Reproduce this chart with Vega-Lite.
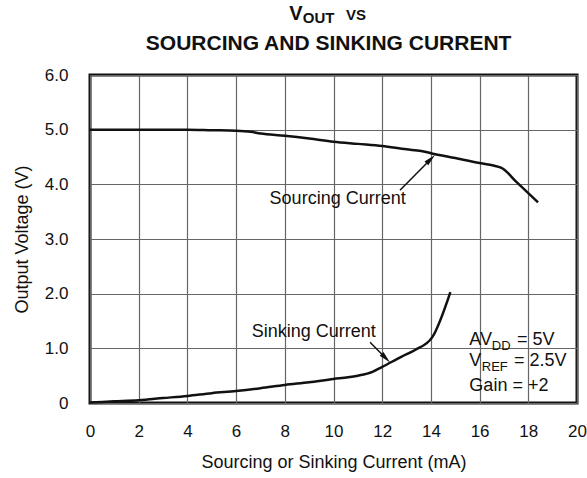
{
  "$schema": "https://vega.github.io/schema/vega-lite/v6.json",
  "width": 487,
  "height": 328,
  "autosize": "none",
  "padding": {"left": 90, "top": 75, "right": 10, "bottom": 75},
  "background": "white",
  "config": {
    "view": {"stroke": "#111", "strokeWidth": 3},
    "axis": {"labelFont": "Liberation Sans", "titleFont": "Liberation Sans", "labelFontSize": 17, "titleFontSize": 18, "titleFontWeight": "normal", "labelColor": "#111", "titleColor": "#111", "gridColor": "#666", "gridWidth": 1.2, "gridOpacity": 1, "domain": false, "ticks": false, "tickSize": 0}
  },
  "datasets": {
    "curves": [
      {"series": "Sourcing", "x": 0, "y": 5.0},
      {"series": "Sourcing", "x": 2, "y": 5.0},
      {"series": "Sourcing", "x": 4, "y": 5.0},
      {"series": "Sourcing", "x": 5, "y": 4.99},
      {"series": "Sourcing", "x": 6, "y": 4.98},
      {"series": "Sourcing", "x": 6.6, "y": 4.96},
      {"series": "Sourcing", "x": 7, "y": 4.93},
      {"series": "Sourcing", "x": 8, "y": 4.89},
      {"series": "Sourcing", "x": 9, "y": 4.84},
      {"series": "Sourcing", "x": 10, "y": 4.78},
      {"series": "Sourcing", "x": 11, "y": 4.74},
      {"series": "Sourcing", "x": 12, "y": 4.7},
      {"series": "Sourcing", "x": 13, "y": 4.64},
      {"series": "Sourcing", "x": 13.6, "y": 4.61},
      {"series": "Sourcing", "x": 14, "y": 4.57},
      {"series": "Sourcing", "x": 15, "y": 4.48},
      {"series": "Sourcing", "x": 16, "y": 4.39},
      {"series": "Sourcing", "x": 16.9, "y": 4.3},
      {"series": "Sourcing", "x": 17.5, "y": 4.05},
      {"series": "Sourcing", "x": 18.4, "y": 3.67},
      {"series": "Sinking", "x": 0, "y": 0.01},
      {"series": "Sinking", "x": 1, "y": 0.03},
      {"series": "Sinking", "x": 2, "y": 0.05},
      {"series": "Sinking", "x": 3, "y": 0.09},
      {"series": "Sinking", "x": 4, "y": 0.13},
      {"series": "Sinking", "x": 5, "y": 0.18},
      {"series": "Sinking", "x": 6, "y": 0.22},
      {"series": "Sinking", "x": 7, "y": 0.27},
      {"series": "Sinking", "x": 8, "y": 0.33},
      {"series": "Sinking", "x": 9, "y": 0.38},
      {"series": "Sinking", "x": 10, "y": 0.44},
      {"series": "Sinking", "x": 10.6, "y": 0.47},
      {"series": "Sinking", "x": 11, "y": 0.5},
      {"series": "Sinking", "x": 11.6, "y": 0.57},
      {"series": "Sinking", "x": 12, "y": 0.66},
      {"series": "Sinking", "x": 12.8, "y": 0.85},
      {"series": "Sinking", "x": 13.35, "y": 0.97},
      {"series": "Sinking", "x": 14.05, "y": 1.2},
      {"series": "Sinking", "x": 14.8, "y": 2.03}
    ],
    "arrows": [
      {"series": "Sourcing", "x": 13.99, "y": 4.46, "x2": 12.73, "y2": 3.89},
      {"series": "Sinking", "x": 12.15, "y": 0.82, "x2": 11.5, "y2": 1.11}
    ],
    "labels": [
      {"x": 10.17, "y": 3.74, "text": "Sourcing Current"},
      {"x": 9.19, "y": 1.29, "text": "Sinking Current"}
    ],
    "notes": [
      {"x": 15.58, "y": 1.053, "text": "AV", "kind": "main"},
      {"x": 16.5, "y": 0.974, "text": "DD", "kind": "sub"},
      {"x": 17.54, "y": 1.053, "text": "= 5V", "kind": "main"},
      {"x": 15.58, "y": 0.674, "text": "V", "kind": "main"},
      {"x": 16.09, "y": 0.577, "text": "REF", "kind": "sub"},
      {"x": 17.41, "y": 0.674, "text": "= 2.5V", "kind": "main"},
      {"x": 15.58, "y": 0.216, "text": "Gain = +2", "kind": "main"}
    ],
    "heading": [
      {"x": 8.18, "y": 7.0, "text": "V", "kind": "big"},
      {"x": 8.74, "y": 6.96, "text": "OUT", "kind": "sub"},
      {"x": 10.51, "y": 7.0, "text": "VS", "kind": "sub"},
      {"x": 9.8, "y": 6.456, "text": "SOURCING AND SINKING CURRENT", "kind": "line2"}
    ]
  },
  "encoding": {
    "x": {"field": "x", "type": "quantitative", "scale": {"domain": [0, 20], "nice": false, "zero": false},
      "axis": {"title": "Sourcing or Sinking Current (mA)", "values": [0, 2, 4, 6, 8, 10, 12, 14, 16, 18, 20], "labelPadding": 20, "titlePadding": 14, "labelFlush": false}},
    "y": {"field": "y", "type": "quantitative", "scale": {"domain": [0, 6], "nice": false},
      "axis": {"title": "Output Voltage (V)", "values": [0, 1, 2, 3, 4, 5, 6], "labelExpr": "datum.value == 0 ? '0' : format(datum.value, '.1f')", "labelPadding": 22, "titlePadding": 13}}
  },
  "layer": [
    {"data": {"name": "curves"}, "mark": {"type": "line", "color": "#111", "strokeWidth": 2.5, "interpolate": "monotone"},
      "encoding": {"detail": {"field": "series", "type": "nominal"}}},
    {"data": {"name": "arrows"}, "mark": {"type": "rule", "color": "#111", "strokeWidth": 1.5},
      "encoding": {"x2": {"field": "x2"}, "y2": {"field": "y2"}}},
    {"data": {"name": "arrows"}, "transform": [{"filter": "datum.series == 'Sourcing'"}],
      "mark": {"type": "point", "shape": "M0,-1L0.45,1L-0.45,1Z", "filled": true, "color": "#111", "opacity": 1, "size": 144, "angle": 45}},
    {"data": {"name": "arrows"}, "transform": [{"filter": "datum.series == 'Sinking'"}],
      "mark": {"type": "point", "shape": "M0,-1L0.45,1L-0.45,1Z", "filled": true, "color": "#111", "opacity": 1, "size": 144, "angle": 135}},
    {"data": {"name": "labels"}, "mark": {"type": "text", "font": "Liberation Sans", "fontSize": 18, "color": "#111", "align": "center", "baseline": "middle"},
      "encoding": {"text": {"field": "text"}}},
    {"data": {"name": "notes"}, "transform": [{"filter": "datum.kind == 'main'"}],
      "mark": {"type": "text", "font": "Liberation Sans", "fontSize": 18, "color": "#111", "align": "left", "baseline": "alphabetic"},
      "encoding": {"text": {"field": "text"}}},
    {"data": {"name": "notes"}, "transform": [{"filter": "datum.kind == 'sub'"}],
      "mark": {"type": "text", "font": "Liberation Sans", "fontSize": 13, "color": "#111", "align": "left", "baseline": "alphabetic"},
      "encoding": {"text": {"field": "text"}}},
    {"data": {"name": "heading"}, "transform": [{"filter": "datum.kind == 'big'"}],
      "mark": {"type": "text", "font": "Liberation Sans", "fontWeight": "bold", "fontSize": 20, "color": "#111", "align": "left", "baseline": "alphabetic"},
      "encoding": {"text": {"field": "text"}}},
    {"data": {"name": "heading"}, "transform": [{"filter": "datum.kind == 'sub'"}],
      "mark": {"type": "text", "font": "Liberation Sans", "fontWeight": "bold", "fontSize": 15, "color": "#111", "align": "left", "baseline": "alphabetic"},
      "encoding": {"text": {"field": "text"}}},
    {"data": {"name": "heading"}, "transform": [{"filter": "datum.kind == 'line2'"}],
      "mark": {"type": "text", "font": "Liberation Sans", "fontWeight": "bold", "fontSize": 21, "color": "#111", "align": "center", "baseline": "alphabetic"},
      "encoding": {"text": {"field": "text"}}}
  ]
}
